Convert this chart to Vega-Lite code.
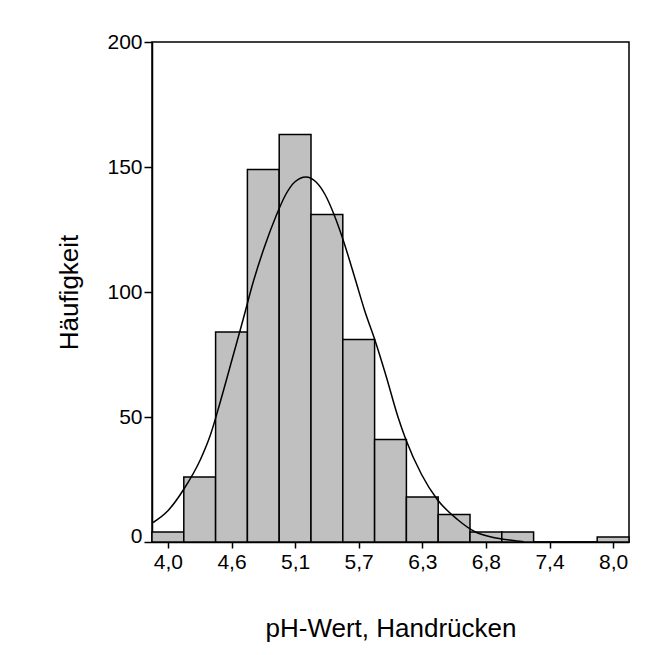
{
  "$schema": "https://vega.github.io/schema/vega-lite/v6.json",
  "width": 477,
  "height": 500,
  "autosize": {"type": "none"},
  "padding": {"left": 152, "top": 42, "right": 32, "bottom": 113},
  "background": "white",
  "config": {
    "font": "Liberation Sans",
    "view": {"stroke": "#000", "strokeWidth": 1.5},
    "axis": {
      "grid": false,
      "domainColor": "#000",
      "domainWidth": 1.5,
      "tickColor": "#000",
      "tickWidth": 1.5,
      "labelColor": "#000",
      "titleColor": "#000",
      "labelFont": "Liberation Sans",
      "titleFont": "Liberation Sans",
      "titleFontWeight": "normal",
      "labelFlush": false,
      "labelOverlap": false
    }
  },
  "datasets": {
    "bins": [
      {"lo": 3.85833, "hi": 4.14167, "count": 4},
      {"lo": 4.14167, "hi": 4.425, "count": 26},
      {"lo": 4.425, "hi": 4.70833, "count": 84},
      {"lo": 4.70833, "hi": 4.99167, "count": 149},
      {"lo": 4.99167, "hi": 5.275, "count": 163},
      {"lo": 5.275, "hi": 5.55833, "count": 131},
      {"lo": 5.55833, "hi": 5.84167, "count": 81},
      {"lo": 5.84167, "hi": 6.125, "count": 41},
      {"lo": 6.125, "hi": 6.40833, "count": 18},
      {"lo": 6.40833, "hi": 6.69167, "count": 11},
      {"lo": 6.69167, "hi": 6.975, "count": 4},
      {"lo": 6.975, "hi": 7.25833, "count": 4},
      {"lo": 7.25833, "hi": 7.54167, "count": 0},
      {"lo": 7.54167, "hi": 7.825, "count": 0},
      {"lo": 7.825, "hi": 8.10833, "count": 2}
    ],
    "curve": [
      {"ph": 3.868, "freq": 7.8},
      {"ph": 4.0, "freq": 12.5},
      {"ph": 4.14, "freq": 21},
      {"ph": 4.29, "freq": 33},
      {"ph": 4.38, "freq": 43},
      {"ph": 4.46, "freq": 55},
      {"ph": 4.59, "freq": 76},
      {"ph": 4.67, "freq": 89},
      {"ph": 4.76, "freq": 104},
      {"ph": 4.86, "freq": 118},
      {"ph": 4.96, "freq": 130},
      {"ph": 5.05, "freq": 139},
      {"ph": 5.13, "freq": 144},
      {"ph": 5.23, "freq": 146},
      {"ph": 5.32, "freq": 144},
      {"ph": 5.4, "freq": 139},
      {"ph": 5.48, "freq": 131},
      {"ph": 5.56, "freq": 121},
      {"ph": 5.67, "freq": 105},
      {"ph": 5.75, "freq": 93},
      {"ph": 5.85, "freq": 80},
      {"ph": 5.94, "freq": 67},
      {"ph": 6.05, "freq": 50},
      {"ph": 6.12, "freq": 41},
      {"ph": 6.26, "freq": 27},
      {"ph": 6.4, "freq": 17},
      {"ph": 6.58, "freq": 9},
      {"ph": 6.74, "freq": 4},
      {"ph": 6.9, "freq": 1.8},
      {"ph": 7.06, "freq": 0.7},
      {"ph": 7.17, "freq": 0.1}
    ]
  },
  "layer": [
    {
      "data": {"name": "bins"},
      "mark": {"type": "rect", "fill": "#c0c0c0", "stroke": "#000", "strokeWidth": 1.5},
      "encoding": {
        "x": {
          "field": "lo",
          "type": "quantitative",
          "scale": {"domain": [3.85833, 8.10833], "nice": false, "zero": false},
          "axis": {
            "values": [4.0, 4.28333, 4.56667, 4.85, 5.13333, 5.41667, 5.7, 5.98333, 6.26667, 6.55, 6.83333, 7.11667, 7.4, 7.68333, 7.96667],
            "labelExpr": "(round((datum.value - 4) / 0.283333) % 2 == 0) ? replace(format(datum.value, '.1f'), '.', ',') : ''",
            "tickSize": 6,
            "labelFontSize": 21,
            "labelPadding": 3,
            "title": "pH-Wert, Handrücken",
            "titleFontSize": 26,
            "titlePadding": 43
          }
        },
        "x2": {"field": "hi"},
        "y": {
          "field": "count",
          "type": "quantitative",
          "scale": {"domain": [0, 200], "nice": false},
          "axis": {
            "values": [0, 50, 100, 150, 200],
            "tickSize": 8,
            "labelFontSize": 21,
            "labelPadding": 2,
            "labelBaseline": {"condition": {"test": "datum.value === 0", "value": "alphabetic"}, "value": "middle"},
            "title": "Häufigkeit",
            "titleFontSize": 26,
            "titlePadding": 24
          }
        },
        "y2": {"datum": 0}
      }
    },
    {
      "data": {"name": "curve"},
      "mark": {"type": "line", "color": "#000", "strokeWidth": 1.5, "interpolate": "monotone"},
      "encoding": {
        "x": {"field": "ph", "type": "quantitative"},
        "y": {"field": "freq", "type": "quantitative"}
      }
    }
  ]
}
